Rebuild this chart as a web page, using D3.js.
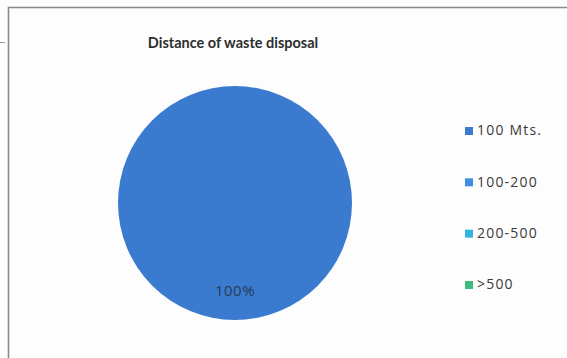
<!DOCTYPE html>
<html>
<head>
<meta charset="utf-8">
<script src="https://cdn.jsdelivr.net/npm/d3@7"></script>
<style>
  html, body { margin: 0; padding: 0; background: #fdfdfd; }
  svg { display: block; }
</style>
</head>
<body>
<svg id="chart" width="567" height="358"></svg>
<script>
// Distance of waste disposal — share of respondents by distance band
const categories = ["100 Mts.", "100-200", "200-500", ">500"];
const shares = [100, 0, 0, 0];
const colors = ["#3a7bcf", "#3c8fe0", "#35b3dc", "#3cbc7c"];
const chartTitle = "Distance of waste disposal";

const svg = d3.select("#chart");
const W = 567, H = 358;

// frame around the chart area
svg.append("path")
  .attr("d", `M8.5,${H} L8.5,7.5 L${W},7.5`)
  .attr("fill", "none")
  .attr("stroke", "#8a8a8a")
  .attr("stroke-width", 1.6);
svg.append("line")
  .attr("x1", 0).attr("x2", 5).attr("y1", 42.5).attr("y2", 42.5)
  .attr("stroke", "#999").attr("stroke-width", 1);

svg.append("text")
  .attr("x", 233).attr("y", 48)
  .attr("text-anchor", "middle")
  .attr("font-family", "Lato, 'Open Sans', sans-serif")
  .attr("font-weight", "bold")
  .attr("font-size", 14.5)
  .attr("fill", "#2e2e2e")
  .text(chartTitle);

const color = d3.scaleOrdinal().domain(categories).range(colors);

const cx = 235, cy = 203, r = 117;
const pie = d3.pie().sort(null).value(d => d.v);
const arc = d3.arc().innerRadius(0).outerRadius(r);
const data = categories.map((c, i) => ({ c, v: shares[i] }));
const arcs = pie(data);

const g = svg.append("g").attr("transform", `translate(${cx},${cy})`);
g.selectAll("path")
  .data(arcs)
  .join("path")
  .attr("d", arc)
  .attr("fill", d => color(d.data.c));

// percentage label for each non-empty slice, placed toward the lower part
const total = d3.sum(shares);
g.selectAll("text.pct")
  .data(arcs.filter(d => d.data.v > 0))
  .join("text")
  .attr("class", "pct")
  .attr("x", 0)
  .attr("y", r * 0.76)
  .attr("text-anchor", "middle")
  .attr("dominant-baseline", "middle")
  .attr("font-family", "'Open Sans', sans-serif")
  .attr("font-size", 15)
  .attr("letter-spacing", 0.5)
  .attr("fill", "#2a3a55")
  .text(d => d3.format(".0%")(d.data.v / total));

// legend
const legendY = d3.scalePoint().domain(categories).range([131, 285]);
const lg = svg.append("g");
const items = lg.selectAll("g")
  .data(categories)
  .join("g")
  .attr("transform", d => `translate(465,${legendY(d)})`);
items.append("rect")
  .attr("x", 0).attr("y", -4)
  .attr("width", 8).attr("height", 8)
  .attr("fill", d => color(d));
items.append("text")
  .attr("x", 12).attr("y", 0.5)
  .attr("dominant-baseline", "middle")
  .attr("font-family", "'Open Sans', sans-serif")
  .attr("font-size", 14)
  .attr("letter-spacing", 1.2)
  .attr("fill", "#3a3a3a")
  .text(d => d);
</script>
</body>
</html>
